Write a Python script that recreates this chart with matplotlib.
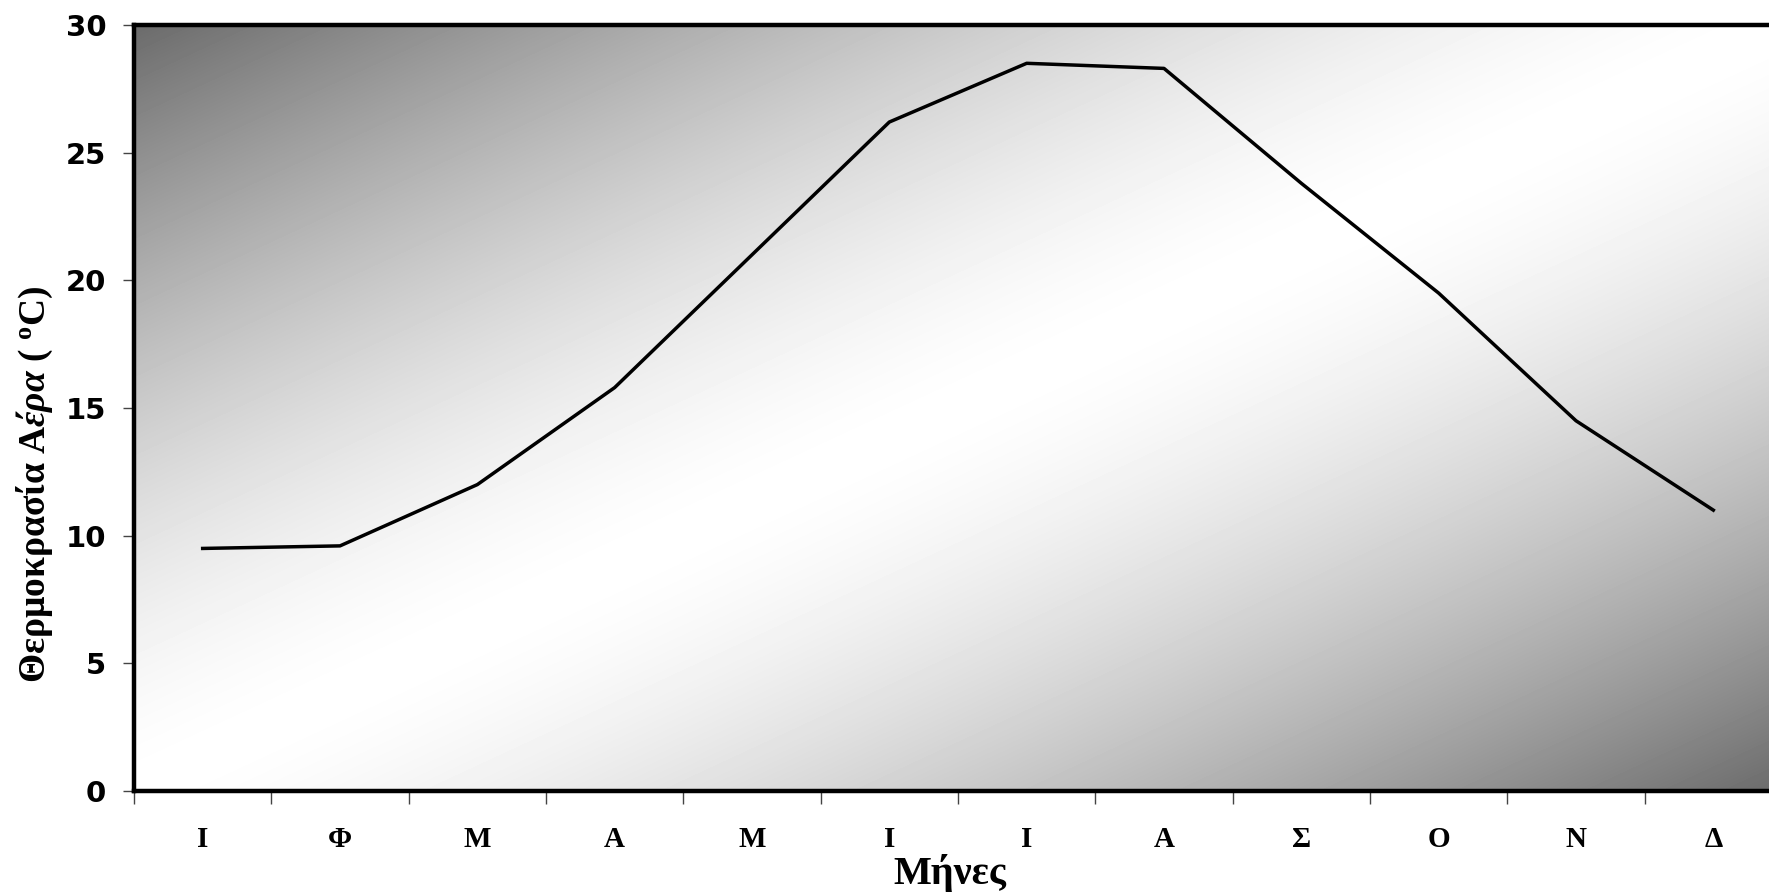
import numpy as np
import matplotlib.pyplot as plt
from matplotlib.ticker import FixedLocator

months = ["Ι", "Φ", "Μ", "Α", "Μ", "Ι", "Ι", "Α", "Σ", "Ο", "Ν", "Δ"]
temps = [9.5, 9.6, 12.0, 15.8, 21.0, 26.2, 28.5, 28.3, 23.8, 19.5, 14.5, 11.0]
yticks = [0, 5, 10, 15, 20, 25, 30]

plt.rcParams['mathtext.fontset'] = 'custom'
plt.rcParams['mathtext.rm'] = 'Liberation Serif:bold'
plt.rcParams['mathtext.it'] = 'Liberation Serif:italic:bold'
plt.rcParams['mathtext.bf'] = 'Liberation Serif:bold'

fig = plt.figure(figsize=(17.69, 8.92), dpi=100)
ax = fig.add_axes([134 / 1769, 1 - 791 / 892, 1648 / 1769, 766 / 892])

# diagonal grey gradient behind the plot area
u, v = np.meshgrid(np.linspace(0, 1, 400), np.linspace(1, 0, 200))
t = np.abs(u - v)
shade = 1 - 0.58 * t ** 1.5
ax.imshow(shade, cmap='gray', vmin=0, vmax=1, extent=[0, 1, 0, 1],
          transform=ax.transAxes, aspect='auto', zorder=0, interpolation='bilinear')

x = np.arange(len(months))
ax.plot(x, temps, color='black', lw=2.5, zorder=3)

ax.set_xlim(-0.5, len(months) - 0.5)
ax.set_ylim(0, 30)

ax.set_xticks(x)
ax.set_xticklabels(months, fontfamily='Liberation Serif', fontweight='bold', fontsize=21)
ax.xaxis.set_minor_locator(FixedLocator(np.arange(-0.5, len(months), 1)))
ax.tick_params(axis='x', which='major', length=0, pad=25)
ax.tick_params(axis='x', which='minor', length=9, width=1, color='#444444')

ax.set_yticks(yticks)
ax.set_yticklabels([str(v) for v in yticks], fontfamily='DejaVu Sans', fontweight='bold', fontsize=21)
ax.tick_params(axis='y', length=8, width=1, color='#444444', pad=12)

for side in ['left', 'bottom', 'top', 'right']:
    ax.spines[side].set_linewidth(3.2)

ax.set_xlabel("Μήνες", fontfamily='Liberation Serif', fontweight='bold', fontsize=29)
ax.xaxis.set_label_coords(0.495, -0.082)
ax.set_ylabel(r"Θερμοκρασία $\mathit{Αέρα}$ ( $^{\mathrm{o}}$C)",
              fontfamily='Liberation Serif', fontweight='bold', fontsize=27)
ax.yaxis.set_label_coords(-0.048, 0.40)

fig.savefig("out.png", dpi=100)
